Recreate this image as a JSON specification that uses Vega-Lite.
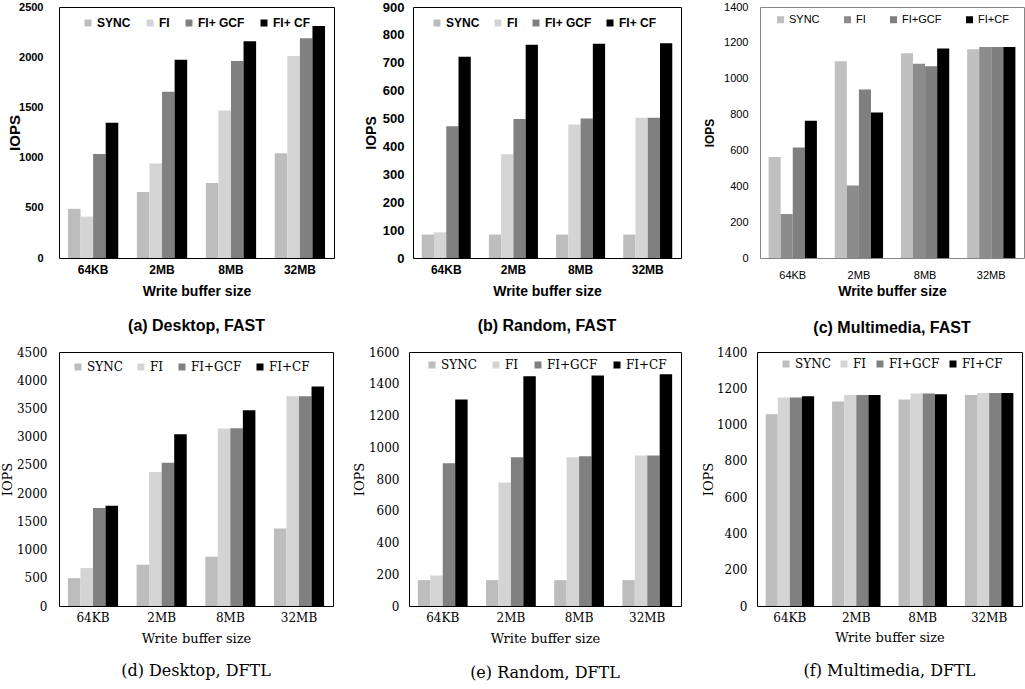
{
  "$schema": "https://vega.github.io/schema/vega-lite/v6.json",
  "padding": {"left": 0, "top": 0, "right": 0, "bottom": 0},
  "background": "white",
  "spacing": 8,
  "resolve": {"scale": {"x": "independent", "y": "independent", "color": "independent", "xOffset": "independent"}, "legend": {"color": "independent"}},
  "config": {
    "axis": {"labelColor": "black", "titleColor": "black", "grid": false, "ticks": false, "domain": false},
    "legend": {"padding": 0, "title": null, "direction": "horizontal", "orient": "none", "symbolType": "square", "symbolSize": 49, "symbolStrokeWidth": 0, "labelColor": "black", "labelOffset": 3},
    "title": {"color": "black", "orient": "bottom", "anchor": "middle"}
  },
  "datasets": {
    "a": [
      {"size": "64KB", "scheme": "SYNC", "iops": 490}, {"size": "64KB", "scheme": "FI", "iops": 412}, {"size": "64KB", "scheme": "FI+GCF", "iops": 1037}, {"size": "64KB", "scheme": "FI+CF", "iops": 1346},
      {"size": "2MB", "scheme": "SYNC", "iops": 658}, {"size": "2MB", "scheme": "FI", "iops": 941}, {"size": "2MB", "scheme": "FI+GCF", "iops": 1656}, {"size": "2MB", "scheme": "FI+CF", "iops": 1975},
      {"size": "8MB", "scheme": "SYNC", "iops": 748}, {"size": "8MB", "scheme": "FI", "iops": 1469}, {"size": "8MB", "scheme": "FI+GCF", "iops": 1961}, {"size": "8MB", "scheme": "FI+CF", "iops": 2158},
      {"size": "32MB", "scheme": "SYNC", "iops": 1044}, {"size": "32MB", "scheme": "FI", "iops": 2011}, {"size": "32MB", "scheme": "FI+GCF", "iops": 2188}, {"size": "32MB", "scheme": "FI+CF", "iops": 2311}
    ],
    "b": [
      {"size": "64KB", "scheme": "SYNC", "iops": 84}, {"size": "64KB", "scheme": "FI", "iops": 92}, {"size": "64KB", "scheme": "FI+GCF", "iops": 472}, {"size": "64KB", "scheme": "FI+CF", "iops": 722},
      {"size": "2MB", "scheme": "SYNC", "iops": 84}, {"size": "2MB", "scheme": "FI", "iops": 372}, {"size": "2MB", "scheme": "FI+GCF", "iops": 498}, {"size": "2MB", "scheme": "FI+CF", "iops": 765},
      {"size": "8MB", "scheme": "SYNC", "iops": 84}, {"size": "8MB", "scheme": "FI", "iops": 479}, {"size": "8MB", "scheme": "FI+GCF", "iops": 500}, {"size": "8MB", "scheme": "FI+CF", "iops": 768},
      {"size": "32MB", "scheme": "SYNC", "iops": 84}, {"size": "32MB", "scheme": "FI", "iops": 503}, {"size": "32MB", "scheme": "FI+GCF", "iops": 503}, {"size": "32MB", "scheme": "FI+CF", "iops": 770}
    ],
    "c": [
      {"size": "64KB", "scheme": "SYNC", "iops": 563}, {"size": "64KB", "scheme": "FI", "iops": 246}, {"size": "64KB", "scheme": "FI+GCF", "iops": 616}, {"size": "64KB", "scheme": "FI+CF", "iops": 765},
      {"size": "2MB", "scheme": "SYNC", "iops": 1098}, {"size": "2MB", "scheme": "FI", "iops": 404}, {"size": "2MB", "scheme": "FI+GCF", "iops": 940}, {"size": "2MB", "scheme": "FI+CF", "iops": 812},
      {"size": "8MB", "scheme": "SYNC", "iops": 1142}, {"size": "8MB", "scheme": "FI", "iops": 1084}, {"size": "8MB", "scheme": "FI+GCF", "iops": 1069}, {"size": "8MB", "scheme": "FI+CF", "iops": 1168},
      {"size": "32MB", "scheme": "SYNC", "iops": 1164}, {"size": "32MB", "scheme": "FI", "iops": 1177}, {"size": "32MB", "scheme": "FI+GCF", "iops": 1177}, {"size": "32MB", "scheme": "FI+CF", "iops": 1177}
    ],
    "d": [
      {"size": "64KB", "scheme": "SYNC", "iops": 493}, {"size": "64KB", "scheme": "FI", "iops": 672}, {"size": "64KB", "scheme": "FI+GCF", "iops": 1736}, {"size": "64KB", "scheme": "FI+CF", "iops": 1778},
      {"size": "2MB", "scheme": "SYNC", "iops": 731}, {"size": "2MB", "scheme": "FI", "iops": 2372}, {"size": "2MB", "scheme": "FI+GCF", "iops": 2539}, {"size": "2MB", "scheme": "FI+CF", "iops": 3044},
      {"size": "8MB", "scheme": "SYNC", "iops": 874}, {"size": "8MB", "scheme": "FI", "iops": 3145}, {"size": "8MB", "scheme": "FI+GCF", "iops": 3151}, {"size": "8MB", "scheme": "FI+CF", "iops": 3466},
      {"size": "32MB", "scheme": "SYNC", "iops": 1373}, {"size": "32MB", "scheme": "FI", "iops": 3716}, {"size": "32MB", "scheme": "FI+GCF", "iops": 3716}, {"size": "32MB", "scheme": "FI+CF", "iops": 3888}
    ],
    "e": [
      {"size": "64KB", "scheme": "SYNC", "iops": 163}, {"size": "64KB", "scheme": "FI", "iops": 192}, {"size": "64KB", "scheme": "FI+GCF", "iops": 900}, {"size": "64KB", "scheme": "FI+CF", "iops": 1301},
      {"size": "2MB", "scheme": "SYNC", "iops": 163}, {"size": "2MB", "scheme": "FI", "iops": 778}, {"size": "2MB", "scheme": "FI+GCF", "iops": 937}, {"size": "2MB", "scheme": "FI+CF", "iops": 1448},
      {"size": "8MB", "scheme": "SYNC", "iops": 163}, {"size": "8MB", "scheme": "FI", "iops": 937}, {"size": "8MB", "scheme": "FI+GCF", "iops": 943}, {"size": "8MB", "scheme": "FI+CF", "iops": 1452},
      {"size": "32MB", "scheme": "SYNC", "iops": 163}, {"size": "32MB", "scheme": "FI", "iops": 948}, {"size": "32MB", "scheme": "FI+GCF", "iops": 948}, {"size": "32MB", "scheme": "FI+CF", "iops": 1460}
    ],
    "f": [
      {"size": "64KB", "scheme": "SYNC", "iops": 1057}, {"size": "64KB", "scheme": "FI", "iops": 1149}, {"size": "64KB", "scheme": "FI+GCF", "iops": 1149}, {"size": "64KB", "scheme": "FI+CF", "iops": 1156},
      {"size": "2MB", "scheme": "SYNC", "iops": 1127}, {"size": "2MB", "scheme": "FI", "iops": 1163}, {"size": "2MB", "scheme": "FI+GCF", "iops": 1163}, {"size": "2MB", "scheme": "FI+CF", "iops": 1163},
      {"size": "8MB", "scheme": "SYNC", "iops": 1138}, {"size": "8MB", "scheme": "FI", "iops": 1171}, {"size": "8MB", "scheme": "FI+GCF", "iops": 1171}, {"size": "8MB", "scheme": "FI+CF", "iops": 1167},
      {"size": "32MB", "scheme": "SYNC", "iops": 1163}, {"size": "32MB", "scheme": "FI", "iops": 1174}, {"size": "32MB", "scheme": "FI+GCF", "iops": 1174}, {"size": "32MB", "scheme": "FI+CF", "iops": 1174}
    ]
  },
  "vconcat": [
    {
      "bounds": "flush",
      "spacing": 79,
      "resolve": {"scale": {"x": "independent", "y": "independent", "color": "independent", "xOffset": "independent"}, "legend": {"color": "independent"}},
      "hconcat": [
        {
          "width": 275, "height": 251,
          "view": {"stroke": "black", "strokeWidth": 1},
          "data": {"name": "a"},
          "title": {"text": "(a) Desktop, FAST", "font": "Liberation Sans", "fontSize": 16, "fontWeight": "bold", "offset": 20},
          "mark": {"type": "bar"},
          "encoding": {
            "x": {"field": "size", "type": "nominal", "sort": ["64KB", "2MB", "8MB", "32MB"], "scale": {"paddingInner": 0.27, "paddingOuter": 0.13},
              "axis": {"title": "Write buffer size", "labelAngle": 0, "labelPadding": 6, "titlePadding": 9, "labelFont": "Liberation Sans", "labelFontWeight": "bold", "labelFontSize": 12, "titleFont": "Liberation Sans", "titleFontSize": 14, "titleFontWeight": "bold"}},
            "xOffset": {"field": "scheme", "type": "nominal", "sort": ["SYNC", "FI", "FI+GCF", "FI+CF"]},
            "y": {"field": "iops", "type": "quantitative", "scale": {"domain": [0, 2500]},
              "axis": {"title": "IOPS", "format": "d", "values": [0, 500, 1000, 1500, 2000, 2500], "labelPadding": 16, "titlePadding": -4, "labelFont": "Liberation Sans", "labelFontWeight": "bold", "labelFontSize": 11, "titleFont": "Liberation Sans", "titleFontSize": 15, "titleFontWeight": "bold"}},
            "color": {"field": "scheme", "type": "nominal", "sort": ["SYNC", "FI", "FI+GCF", "FI+CF"],
              "scale": {"domain": ["SYNC", "FI", "FI+GCF", "FI+CF"], "range": ["#bdbdbd", "#d4d4d4", "#808080", "#000000"]},
              "legend": {"legendX": 23, "legendY": 10, "columnPadding": 13, "labelExpr": "replace(datum.label, '+', '+ ')", "labelFont": "Liberation Sans", "labelFontWeight": "bold", "labelFontSize": 12}}
          }
        },
        {
          "width": 268, "height": 251,
          "view": {"stroke": "black", "strokeWidth": 1},
          "data": {"name": "b"},
          "title": {"text": "(b) Random, FAST", "font": "Liberation Sans", "fontSize": 16, "fontWeight": "bold", "offset": 20},
          "mark": {"type": "bar"},
          "encoding": {
            "x": {"field": "size", "type": "nominal", "sort": ["64KB", "2MB", "8MB", "32MB"], "scale": {"paddingInner": 0.27, "paddingOuter": 0.13},
              "axis": {"title": "Write buffer size", "labelAngle": 0, "labelPadding": 6, "titlePadding": 9, "labelFont": "Liberation Sans", "labelFontWeight": "bold", "labelFontSize": 12, "titleFont": "Liberation Sans", "titleFontSize": 14, "titleFontWeight": "bold"}},
            "xOffset": {"field": "scheme", "type": "nominal", "sort": ["SYNC", "FI", "FI+GCF", "FI+CF"]},
            "y": {"field": "iops", "type": "quantitative", "scale": {"domain": [0, 900]},
              "axis": {"title": "IOPS", "format": "d", "values": [0, 100, 200, 300, 400, 500, 600, 700, 800, 900], "labelPadding": 9, "titlePadding": 4, "labelFont": "Liberation Sans", "labelFontWeight": "bold", "labelFontSize": 13, "titleFont": "Liberation Sans", "titleFontSize": 14, "titleFontWeight": "bold"}},
            "color": {"field": "scheme", "type": "nominal", "sort": ["SYNC", "FI", "FI+GCF", "FI+CF"],
              "scale": {"domain": ["SYNC", "FI", "FI+GCF", "FI+CF"], "range": ["#bdbdbd", "#d4d4d4", "#808080", "#000000"]},
              "legend": {"legendX": 18, "legendY": 10, "columnPadding": 12, "labelExpr": "replace(datum.label, '+', '+ ')", "labelFont": "Liberation Sans", "labelFontWeight": "bold", "labelFontSize": 12}}
          }
        },
        {
          "width": 264, "height": 251,
          "view": {"stroke": "#858585", "strokeWidth": 1},
          "data": {"name": "c"},
          "title": {"text": "(c) Multimedia, FAST", "font": "Liberation Sans", "fontSize": 16, "fontWeight": "bold", "offset": 22},
          "mark": {"type": "bar"},
          "encoding": {
            "x": {"field": "size", "type": "nominal", "sort": ["64KB", "2MB", "8MB", "32MB"], "scale": {"paddingInner": 0.27, "paddingOuter": 0.13},
              "axis": {"title": "Write buffer size", "labelAngle": 0, "labelPadding": 11, "titlePadding": 4, "labelFont": "Liberation Sans", "labelFontSize": 11, "titleFont": "Liberation Sans", "titleFontSize": 14, "titleFontWeight": "bold"}},
            "xOffset": {"field": "scheme", "type": "nominal", "sort": ["SYNC", "FI", "FI+GCF", "FI+CF"]},
            "y": {"field": "iops", "type": "quantitative", "scale": {"domain": [0, 1400]},
              "axis": {"title": "IOPS", "format": "d", "values": [0, 200, 400, 600, 800, 1000, 1200, 1400], "labelPadding": 12, "titlePadding": 7, "labelFont": "Liberation Sans", "labelFontSize": 11, "titleFont": "Liberation Sans", "titleFontSize": 12, "titleFontWeight": "bold"}},
            "color": {"field": "scheme", "type": "nominal", "sort": ["SYNC", "FI", "FI+GCF", "FI+CF"],
              "scale": {"domain": ["SYNC", "FI", "FI+GCF", "FI+CF"], "range": ["#c0c0c0", "#8c8c8c", "#7f7f7f", "#000000"]},
              "legend": {"legendX": 15, "legendY": 7, "columnPadding": 22, "labelFont": "Liberation Sans", "labelFontSize": 11}}
          }
        }
      ]
    },
    {
      "bounds": "flush",
      "spacing": 76,
      "resolve": {"scale": {"x": "independent", "y": "independent", "color": "independent", "xOffset": "independent"}, "legend": {"color": "independent"}},
      "hconcat": [
        {
          "width": 274, "height": 254,
          "view": {"stroke": "black", "strokeWidth": 1},
          "data": {"name": "d"},
          "title": {"text": "(d) Desktop, DFTL", "font": "DejaVu Serif", "fontSize": 16, "fontWeight": "normal", "offset": 18},
          "mark": {"type": "bar"},
          "encoding": {
            "x": {"field": "size", "type": "nominal", "sort": ["64KB", "2MB", "8MB", "32MB"], "scale": {"paddingInner": 0.27, "paddingOuter": 0.13},
              "axis": {"title": "Write buffer size", "labelAngle": 0, "labelPadding": 6, "titlePadding": 9, "labelFont": "DejaVu Serif", "labelFontSize": 12, "titleFont": "DejaVu Serif", "titleFontSize": 13, "titleFontWeight": "normal"}},
            "xOffset": {"field": "scheme", "type": "nominal", "sort": ["SYNC", "FI", "FI+GCF", "FI+CF"]},
            "y": {"field": "iops", "type": "quantitative", "scale": {"domain": [0, 4500]},
              "axis": {"title": "IOPS", "format": "d", "values": [0, 500, 1000, 1500, 2000, 2500, 3000, 3500, 4000, 4500], "labelPadding": 12, "titlePadding": 2, "labelFont": "DejaVu Serif", "labelFontSize": 12, "titleFont": "DejaVu Serif", "titleFontSize": 13, "titleFontWeight": "normal"}},
            "color": {"field": "scheme", "type": "nominal", "sort": ["SYNC", "FI", "FI+GCF", "FI+CF"],
              "scale": {"domain": ["SYNC", "FI", "FI+GCF", "FI+CF"], "range": ["#bdbdbd", "#d4d4d4", "#808080", "#000000"]},
              "legend": {"legendX": 13, "legendY": 9, "columnPadding": 12, "labelFont": "DejaVu Serif", "labelFontSize": 12}}
          }
        },
        {
          "width": 272, "height": 254,
          "view": {"stroke": "black", "strokeWidth": 1},
          "data": {"name": "e"},
          "title": {"text": "(e) Random, DFTL", "font": "DejaVu Serif", "fontSize": 16, "fontWeight": "normal", "offset": 20},
          "mark": {"type": "bar"},
          "encoding": {
            "x": {"field": "size", "type": "nominal", "sort": ["64KB", "2MB", "8MB", "32MB"], "scale": {"paddingInner": 0.27, "paddingOuter": 0.13},
              "axis": {"title": "Write buffer size", "labelAngle": 0, "labelPadding": 6, "titlePadding": 9, "labelFont": "DejaVu Serif", "labelFontSize": 12, "titleFont": "DejaVu Serif", "titleFontSize": 13, "titleFontWeight": "normal"}},
            "xOffset": {"field": "scheme", "type": "nominal", "sort": ["SYNC", "FI", "FI+GCF", "FI+CF"]},
            "y": {"field": "iops", "type": "quantitative", "scale": {"domain": [0, 1600]},
              "axis": {"title": "IOPS", "format": "d", "values": [0, 200, 400, 600, 800, 1000, 1200, 1400, 1600], "labelPadding": 10, "titlePadding": 2, "labelFont": "DejaVu Serif", "labelFontSize": 12, "titleFont": "DejaVu Serif", "titleFontSize": 13, "titleFontWeight": "normal"}},
            "color": {"field": "scheme", "type": "nominal", "sort": ["SYNC", "FI", "FI+GCF", "FI+CF"],
              "scale": {"domain": ["SYNC", "FI", "FI+GCF", "FI+CF"], "range": ["#bdbdbd", "#d4d4d4", "#808080", "#000000"]},
              "legend": {"legendX": 17, "legendY": 7, "columnPadding": 13, "labelFont": "DejaVu Serif", "labelFontSize": 12}}
          }
        },
        {
          "width": 265, "height": 254,
          "view": {"stroke": "black", "strokeWidth": 1},
          "data": {"name": "f"},
          "title": {"text": "(f) Multimedia, DFTL", "font": "DejaVu Serif", "fontSize": 16, "fontWeight": "normal", "offset": 19},
          "mark": {"type": "bar"},
          "encoding": {
            "x": {"field": "size", "type": "nominal", "sort": ["64KB", "2MB", "8MB", "32MB"], "scale": {"paddingInner": 0.27, "paddingOuter": 0.13},
              "axis": {"title": "Write buffer size", "labelAngle": 0, "labelPadding": 6, "titlePadding": 8, "labelFont": "DejaVu Serif", "labelFontSize": 12, "titleFont": "DejaVu Serif", "titleFontSize": 13, "titleFontWeight": "normal"}},
            "xOffset": {"field": "scheme", "type": "nominal", "sort": ["SYNC", "FI", "FI+GCF", "FI+CF"]},
            "y": {"field": "iops", "type": "quantitative", "scale": {"domain": [0, 1400]},
              "axis": {"title": "IOPS", "format": "d", "values": [0, 200, 400, 600, 800, 1000, 1200, 1400], "labelPadding": 10, "titlePadding": 1, "labelFont": "DejaVu Serif", "labelFontSize": 12, "titleFont": "DejaVu Serif", "titleFontSize": 13, "titleFontWeight": "normal"}},
            "color": {"field": "scheme", "type": "nominal", "sort": ["SYNC", "FI", "FI+GCF", "FI+CF"],
              "scale": {"domain": ["SYNC", "FI", "FI+GCF", "FI+CF"], "range": ["#bdbdbd", "#d4d4d4", "#808080", "#000000"]},
              "legend": {"legendX": 23, "legendY": 6, "columnPadding": 7, "labelFont": "DejaVu Serif", "labelFontSize": 12}}
          }
        }
      ]
    }
  ]
}
